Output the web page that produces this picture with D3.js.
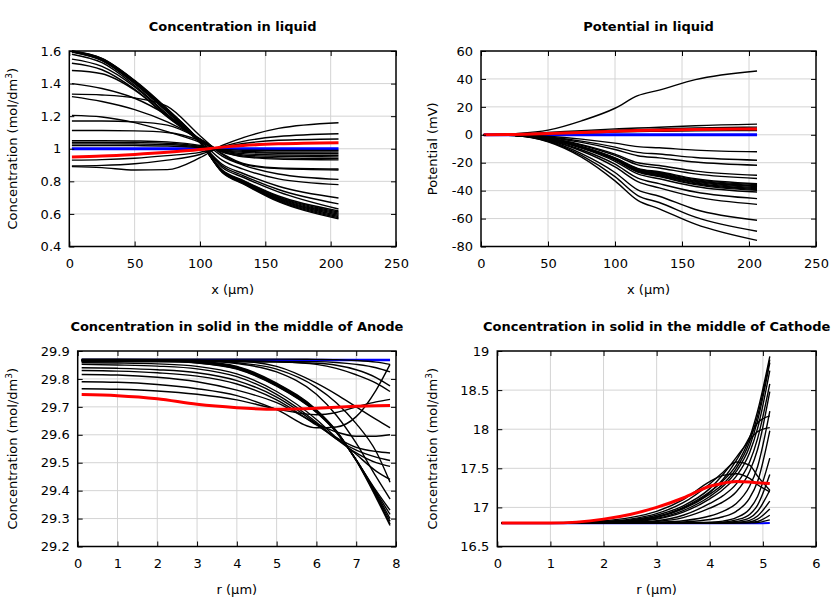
<!DOCTYPE html>
<html><head><meta charset="utf-8">
<script src="https://cdn.jsdelivr.net/npm/d3@7"></script>
<style>body{margin:0;background:#fff}svg{display:block}</style>
</head><body><svg id="c" width="840" height="600"></svg>
<script>
// ---------- Panel 1: Concentration in liquid ----------
const p1X = [2, 25, 50, 75, 100, 117, 133, 160, 206];
const p1Black = [
 [1.600,1.555,1.420,1.245,1.045,0.855,0.785,0.675,0.570],
 [1.600,1.553,1.417,1.242,1.044,0.857,0.788,0.680,0.577],
 [1.599,1.551,1.414,1.239,1.043,0.859,0.791,0.685,0.584],
 [1.598,1.549,1.411,1.236,1.042,0.861,0.794,0.690,0.591],
 [1.597,1.547,1.408,1.233,1.041,0.863,0.797,0.695,0.598],
 [1.596,1.545,1.405,1.230,1.040,0.865,0.800,0.700,0.605],
 [1.595,1.543,1.402,1.227,1.039,0.867,0.803,0.705,0.612],
 [1.594,1.541,1.399,1.224,1.038,0.869,0.806,0.710,0.619],
 [1.580,1.528,1.388,1.212,1.040,0.885,0.825,0.735,0.630],
 [1.550,1.505,1.380,1.205,1.040,0.895,0.835,0.750,0.662],
 [1.525,1.485,1.365,1.195,1.040,0.905,0.848,0.770,0.698],
 [1.480,1.460,1.360,1.200,1.050,0.930,0.875,0.815,0.780],
 [1.400,1.370,1.310,1.205,1.060,0.955,0.900,0.845,0.812],
 [1.335,1.330,1.312,1.260,1.080,0.965,0.905,0.878,0.870],
 [1.320,1.290,1.240,1.165,1.060,0.970,0.910,0.882,0.876],
 [1.205,1.195,1.160,1.105,1.040,0.985,0.950,0.937,0.932],
 [1.170,1.170,1.165,1.145,1.060,0.980,0.955,0.944,0.940],
 [1.112,1.112,1.110,1.100,1.050,0.985,0.962,0.953,0.950],
 [1.050,1.050,1.048,1.042,1.020,0.988,0.970,0.962,0.960],
 [1.040,1.040,1.038,1.034,1.015,0.990,0.978,0.972,0.970],
 [1.030,1.030,1.029,1.026,1.010,0.993,0.984,0.980,0.980],
 [1.020,1.020,1.019,1.017,1.007,0.996,0.991,0.990,0.990],
 [0.930,0.933,0.942,0.958,0.978,1.010,1.032,1.052,1.060],
 [0.895,0.898,0.908,0.930,0.965,1.012,1.045,1.075,1.092],
 [0.890,0.884,0.870,0.872,0.945,1.020,1.068,1.125,1.160]
];
const p1Red = [0.950,0.955,0.965,0.978,0.995,1.010,1.020,1.030,1.037];
const p1Blue = [1,1,1,1,1,1,1,1,1];
const p1XTicks = [0, 50, 100, 150, 200, 250];
const p1YTicks = [0.4, 0.6, 0.8, 1, 1.2, 1.4, 1.6];

// ---------- Panel 2: Potential in liquid ----------
const p2X = [2, 25, 50, 75, 100, 117, 133, 160, 206];
const p2Black = [
 [0,0.8,3.3,10,19,28,32,39.5,45.7],
 [0,0.4,1.6,3.0,4.2,4.9,5.4,6.5,7.6],
 [0,0.3,1.2,2.3,3.2,3.8,4.2,4.9,5.5],
 [0,0.2,0.7,1.3,1.9,2.3,2.5,2.8,3.0],
 [0,-0.1,-1.1,-3.1,-6.0,-8.5,-9.3,-11.0,-12.2],
 [0,-0.2,-1.6,-4.5,-8.8,-12.6,-13.8,-16.3,-18.2],
 [0,-0.2,-1.9,-5.4,-10.5,-15.0,-16.5,-19.5,-21.8],
 [0,-0.3,-2.3,-7.0,-13.8,-20.0,-22.0,-26.0,-29.0],
 [0,-0.3,-2.5,-7.5,-14.8,-21.5,-23.8,-28.0,-31.3],
 [0,-0.3,-2.8,-8.5,-16.5,-24.0,-26.5,-31.5,-35.0],
 [0,-0.3,-2.8,-8.6,-16.8,-24.4,-27.0,-32.1,-35.7],
 [0,-0.3,-2.9,-8.7,-17.0,-24.8,-27.5,-32.7,-36.4],
 [0,-0.3,-2.9,-8.8,-17.2,-25.2,-28.0,-33.3,-37.1],
 [0,-0.3,-3.0,-8.9,-17.4,-25.6,-28.5,-33.9,-37.8],
 [0,-0.3,-3.0,-9.0,-17.6,-26.0,-29.0,-34.5,-38.5],
 [0,-0.3,-3.1,-9.1,-17.8,-26.4,-29.5,-35.1,-39.2],
 [0,-0.3,-3.1,-9.2,-18.0,-26.8,-30.0,-35.7,-39.8],
 [0,-0.3,-3.3,-9.6,-19.0,-28.0,-31.5,-37.0,-41.0],
 [0,-0.4,-3.6,-10.7,-21.0,-31.0,-35.0,-41.0,-45.7],
 [0,-0.4,-3.9,-11.6,-23.0,-33.5,-38.0,-44.5,-49.8],
 [0,-0.4,-4.3,-13.5,-27.0,-39.5,-44.0,-53.5,-61.2],
 [0,-0.5,-4.7,-14.8,-30.0,-43.5,-48.5,-59.0,-69.1],
 [0,-0.5,-5.0,-16.0,-33.0,-47.0,-53.0,-64.0,-75.6]
];
const p2Red = [0,0.2,0.9,1.7,2.5,3.0,3.3,3.8,4.2];
const p2Blue = [0,0,0,0,0,0,0,0,0];
const p2XTicks = [0, 50, 100, 150, 200, 250];
const p2YTicks = [-80, -60, -40, -20, 0, 20, 40, 60];

// ---------- Panel 3: Anode solid ----------
const p3X = [0.1, 1, 2, 3, 4, 5, 6, 6.5, 7, 7.5, 7.85];
const p3Black = [
 [29.871,29.871,29.871,29.871,29.871,29.871,29.870,29.869,29.866,29.860,29.852],
 [29.863,29.863,29.863,29.863,29.863,29.863,29.862,29.859,29.852,29.840,29.825],
 [29.861,29.861,29.861,29.861,29.861,29.860,29.856,29.849,29.833,29.805,29.775],
 [29.865,29.865,29.865,29.865,29.865,29.862,29.852,29.838,29.815,29.785,29.755],
 [29.866,29.866,29.866,29.866,29.864,29.845,29.785,29.745,29.700,29.655,29.625],
 [29.867,29.867,29.867,29.866,29.858,29.835,29.770,29.715,29.640,29.540,29.430],
 [29.868,29.868,29.868,29.866,29.855,29.825,29.745,29.670,29.570,29.450,29.370],
 [29.870,29.870,29.869,29.864,29.845,29.785,29.690,29.615,29.510,29.400,29.330],
 [29.869,29.869,29.868,29.862,29.843,29.782,29.688,29.613,29.510,29.395,29.315],
 [29.868,29.868,29.867,29.861,29.841,29.780,29.686,29.612,29.510,29.390,29.300],
 [29.867,29.867,29.866,29.860,29.839,29.778,29.684,29.611,29.509,29.385,29.290],
 [29.865,29.865,29.864,29.858,29.837,29.776,29.682,29.610,29.508,29.380,29.280],
 [29.864,29.864,29.863,29.857,29.835,29.774,29.680,29.609,29.507,29.375,29.275],
 [29.858,29.857,29.854,29.845,29.818,29.755,29.655,29.590,29.530,29.470,29.440],
 [29.852,29.850,29.846,29.836,29.808,29.745,29.645,29.585,29.535,29.500,29.487],
 [29.840,29.838,29.833,29.822,29.794,29.735,29.640,29.585,29.545,29.520,29.508],
 [29.830,29.828,29.822,29.810,29.782,29.725,29.635,29.590,29.555,29.540,29.535],
 [29.816,29.814,29.806,29.790,29.760,29.715,29.640,29.610,29.595,29.595,29.600],
 [29.790,29.788,29.780,29.765,29.740,29.690,29.625,29.628,29.665,29.760,29.852],
 [29.765,29.763,29.757,29.745,29.725,29.692,29.672,29.680,29.700,29.718,29.727]
];
const p3Red = [29.744,29.740,29.729,29.709,29.697,29.691,29.695,29.699,29.702,29.704,29.705];
const p3Blue = [29.868,29.868,29.868,29.868,29.868,29.868,29.868,29.868,29.868,29.868,29.868];
const p3XTicks = [0, 1, 2, 3, 4, 5, 6, 7, 8];
const p3YTicks = [29.2, 29.3, 29.4, 29.5, 29.6, 29.7, 29.8, 29.9];

// ---------- Panel 4: Cathode solid ----------
const p4X = [0.08, 1, 2, 2.5, 3, 3.5, 4, 4.25, 4.5, 4.75, 4.9, 5.13];
const p4Black = [
 [16.8,16.8,16.8,16.8,16.8,16.8,16.8,16.8,16.8,16.802,16.807,16.84],
 [16.8,16.8,16.8,16.8,16.8,16.8,16.8,16.8,16.802,16.807,16.82,16.90],
 [16.8,16.8,16.8,16.8,16.8,16.8,16.8,16.8,16.805,16.815,16.85,16.98],
 [16.8,16.8,16.8,16.8,16.8,16.8,16.8,16.802,16.81,16.835,16.89,17.08],
 [16.8,16.8,16.8,16.8,16.8,16.8,16.8,16.805,16.82,16.865,16.95,17.22],
 [16.8,16.8,16.8,16.8,16.8,16.8,16.805,16.81,16.84,16.91,17.03,17.42],
 [16.8,16.8,16.8,16.8,16.8,16.8,16.81,16.825,16.87,16.98,17.14,17.63],
 [16.8,16.8,16.8,16.8,16.805,16.815,16.845,16.88,16.95,17.12,17.33,17.98],
 [16.8,16.8,16.8,16.8,16.81,16.83,16.89,16.95,17.05,17.27,17.52,18.23],
 [16.8,16.8,16.8,16.805,16.82,16.87,16.99,17.07,17.20,17.46,17.74,18.48],
 [16.8,16.8,16.8,16.81,16.83,16.90,17.05,17.15,17.30,17.58,17.88,18.58],
 [16.8,16.8,16.805,16.815,16.85,16.94,17.11,17.23,17.40,17.70,18.01,18.75],
 [16.8,16.8,16.805,16.82,16.86,16.96,17.14,17.27,17.46,17.78,18.11,18.85],
 [16.8,16.8,16.81,16.825,16.87,16.98,17.17,17.30,17.50,17.84,18.17,18.89],
 [16.8,16.8,16.81,16.83,16.88,17.00,17.20,17.34,17.54,17.89,18.23,18.93],
 [16.8,16.8,16.81,16.83,16.88,16.99,17.19,17.36,17.60,17.90,18.08,18.17],
 [16.8,16.8,16.815,16.84,16.90,17.02,17.24,17.42,17.64,17.86,17.97,18.02],
 [16.8,16.8,16.82,16.85,16.92,17.06,17.30,17.45,17.58,17.54,17.40,17.22],
 [16.8,16.805,16.83,16.87,16.95,17.10,17.33,17.41,17.43,17.37,17.29,17.20]
];
const p4Red = [16.80,16.80,16.85,16.91,17.00,17.12,17.27,17.31,17.33,17.325,17.315,17.305];
const p4Blue = [16.798,16.798,16.798,16.798,16.798,16.798,16.798,16.798,16.798,16.798,16.798,16.80];
const p4XTicks = [0, 1, 2, 3, 4, 5, 6];
const p4YTicks = [16.5, 17, 17.5, 18, 18.5, 19];

const svg = d3.select('#c');
const FONT = '"DejaVu Sans", sans-serif';

function drawPanel(o) {
  const x = d3.scaleLinear().domain([o.xTicks[0], o.xTicks[o.xTicks.length - 1]]).range([o.l, o.r]);
  const y = d3.scaleLinear().domain([o.yTicks[0], o.yTicks[o.yTicks.length - 1]]).range([o.b, o.t]);
  const g = svg.append('g');

  // grid
  g.append('g').selectAll('line').data(o.xTicks.slice(1, -1)).join('line')
    .attr('x1', d => x(d)).attr('x2', d => x(d)).attr('y1', o.t).attr('y2', o.b)
    .attr('stroke', '#d4d4d4').attr('stroke-width', 1);
  g.append('g').selectAll('line').data(o.yTicks.slice(1, -1)).join('line')
    .attr('y1', d => y(d)).attr('y2', d => y(d)).attr('x1', o.l).attr('x2', o.r)
    .attr('stroke', '#d4d4d4').attr('stroke-width', 1);

  const line = d3.line().x((d, i) => x(o.xs[i])).y(d => y(d)).curve(d3.curveMonotoneX);
  const clipId = 'clip' + o.id;
  g.append('clipPath').attr('id', clipId).append('rect')
    .attr('x', o.l).attr('y', o.t - 2).attr('width', o.r - o.l).attr('height', o.b - o.t + 4);
  const lines = g.append('g').attr('clip-path', `url(#${clipId})`);
  lines.append('path').datum(o.blue).attr('d', line).attr('fill', 'none')
    .attr('stroke', '#0000ff').attr('stroke-width', o.blueW);
  lines.append('g').selectAll('path').data(o.black).join('path').attr('d', line)
    .attr('fill', 'none').attr('stroke', '#000').attr('stroke-width', 1.4);
  lines.append('path').datum(o.red).attr('d', line).attr('fill', 'none')
    .attr('stroke', '#ff0000').attr('stroke-width', 3);

  const fmt = d => String(d);
  const style = sel => {
    sel.select('.domain').remove();
    sel.selectAll('text').attr('font-family', FONT).attr('font-size', 13).attr('fill', '#000');
    sel.selectAll('line').attr('stroke', '#000');
  };
  g.append('g').attr('transform', `translate(0,${o.b})`)
    .call(d3.axisBottom(x).tickValues(o.xTicks).tickSize(-5).tickPadding(12).tickFormat(fmt)).call(style);
  g.append('g').attr('transform', `translate(0,${o.t})`)
    .call(d3.axisTop(x).tickValues(o.xTicks).tickSize(-5).tickFormat('')).call(style);
  g.append('g').attr('transform', `translate(${o.l},0)`)
    .call(d3.axisLeft(y).tickValues(o.yTicks).tickSize(-5).tickPadding(8).tickFormat(fmt)).call(style);
  g.append('g').attr('transform', `translate(${o.r},0)`)
    .call(d3.axisRight(y).tickValues(o.yTicks).tickSize(-5).tickFormat('')).call(style);

  g.append('rect').attr('x', o.l).attr('y', o.t).attr('width', o.r - o.l).attr('height', o.b - o.t)
    .attr('fill', 'none').attr('stroke', '#000').attr('stroke-width', 1.5);

  // title
  g.append('text').attr('x', (o.l + o.r) / 2).attr('y', o.t - 20).attr('text-anchor', 'middle')
    .attr('font-family', FONT).attr('font-size', 13).attr('font-weight', 'bold').text(o.title);
  // x label
  g.append('text').attr('x', (o.l + o.r) / 2).attr('y', o.b + 47).attr('text-anchor', 'middle')
    .attr('font-family', FONT).attr('font-size', 13).text(o.xLabel);
  // y label
  const yl = g.append('text').attr('transform', `translate(${o.yLabelX},${(o.t + o.b) / 2}) rotate(-90)`)
    .attr('text-anchor', 'middle').attr('font-family', FONT).attr('font-size', 13);
  if (o.sup) {
    yl.append('tspan').text(o.yLabel);
    yl.append('tspan').attr('dy', -5).attr('font-size', 9).text('3');
    yl.append('tspan').attr('dy', 5).text(')');
  } else {
    yl.text(o.yLabel);
  }
}

drawPanel({id: 1, l: 69.3, r: 396, t: 51, b: 246.5, xs: p1X, black: p1Black, red: p1Red, blue: p1Blue, blueW: 3,
  xTicks: p1XTicks, yTicks: p1YTicks, title: 'Concentration in liquid', xLabel: 'x (µm)',
  yLabel: 'Concentration (mol/dm', sup: true, yLabelX: 17});
drawPanel({id: 2, l: 481, r: 816, t: 51, b: 246.5, xs: p2X, black: p2Black, red: p2Red, blue: p2Blue, blueW: 3,
  xTicks: p2XTicks, yTicks: p2YTicks, title: 'Potential in liquid', xLabel: 'x (µm)',
  yLabel: 'Potential (mV)', sup: false, yLabelX: 437});
drawPanel({id: 3, l: 77.7, r: 396, t: 351, b: 546.5, xs: p3X, black: p3Black, red: p3Red, blue: p3Blue, blueW: 2.5,
  xTicks: p3XTicks, yTicks: p3YTicks, title: 'Concentration in solid in the middle of Anode', xLabel: 'r (µm)',
  yLabel: 'Concentration (mol/dm', sup: true, yLabelX: 17});
drawPanel({id: 4, l: 497.3, r: 816, t: 351, b: 546.5, xs: p4X, black: p4Black, red: p4Red, blue: p4Blue, blueW: 2,
  xTicks: p4XTicks, yTicks: p4YTicks, title: 'Concentration in solid in the middle of Cathode', xLabel: 'r (µm)',
  yLabel: 'Concentration (mol/dm', sup: true, yLabelX: 437});
</script>
</body></html>
